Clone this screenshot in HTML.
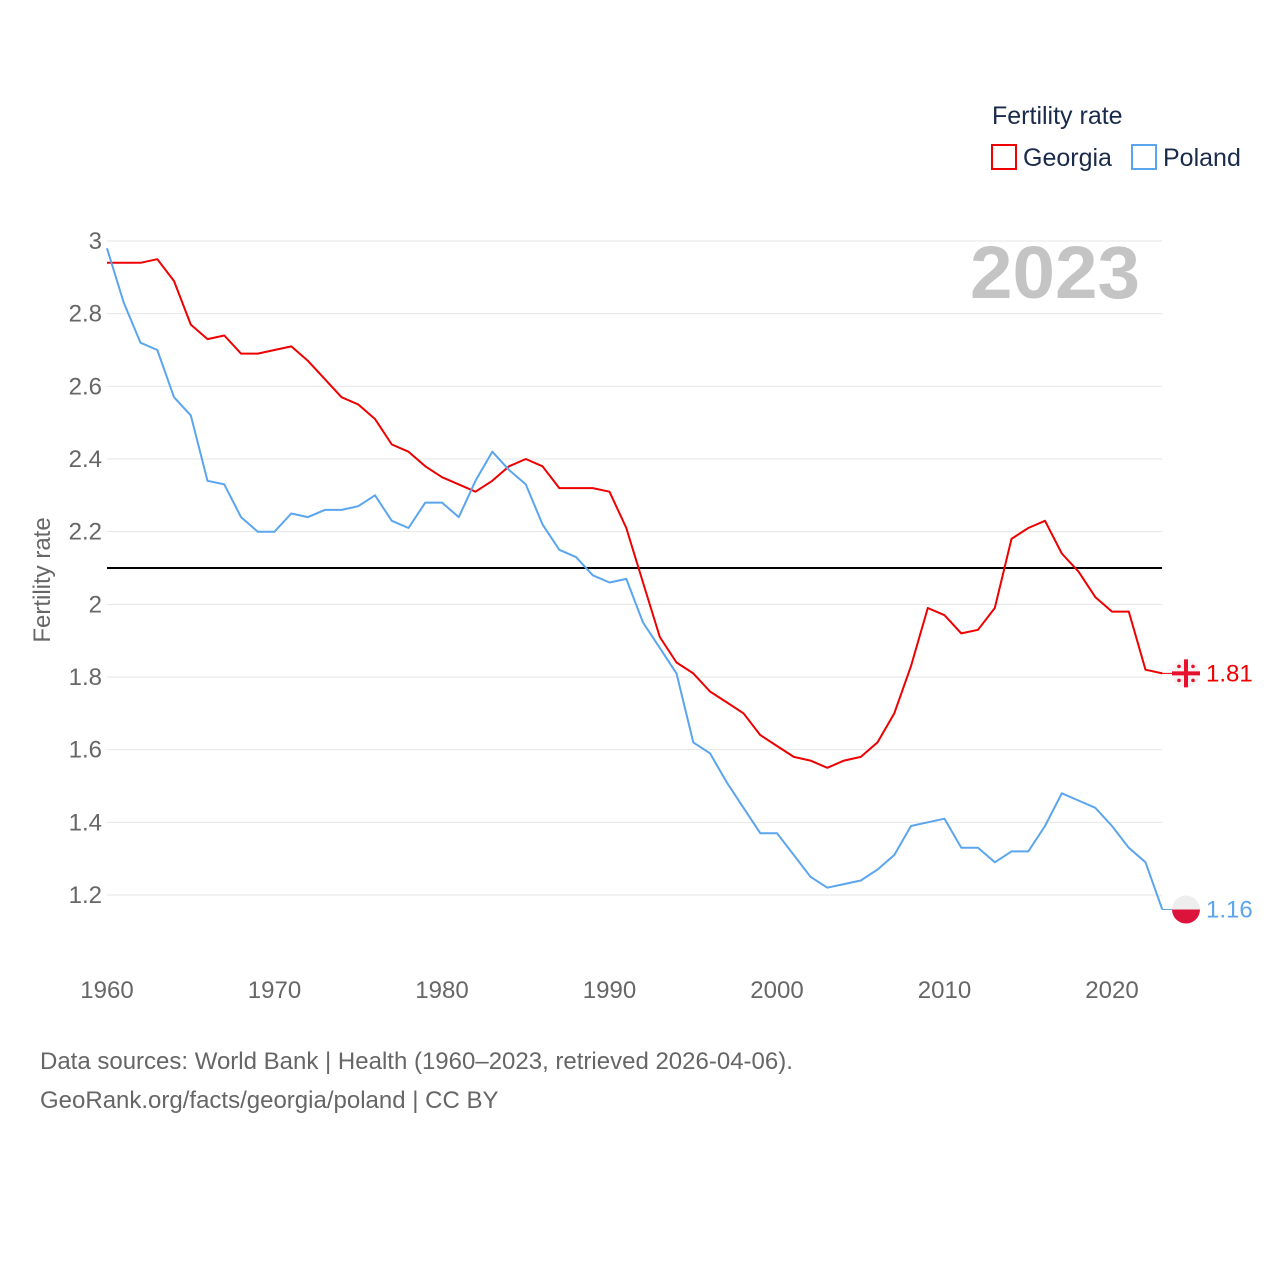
<!DOCTYPE html>
<html><head><meta charset="utf-8">
<style>
body{margin:0;background:#fff;font-family:"Liberation Sans",sans-serif;}
svg text{font-family:"Liberation Sans",sans-serif;}
</style></head>
<body>
<svg id="chart" width="1280" height="1280" viewBox="0 0 1280 1280" xmlns="http://www.w3.org/2000/svg">
<rect width="1280" height="1280" fill="#fff"/>
<g id="grid"></g>
<g id="yticks"></g>
<g id="xticks"></g>
<text x="970" y="298" textLength="170" lengthAdjust="spacingAndGlyphs" font-size="74" font-weight="bold" fill="#c4c4c4">2023</text>
<text transform="translate(50,580) rotate(-90)" text-anchor="middle" font-size="24" fill="#666">Fertility rate</text>
<g id="series"></g>
<text x="992" y="124" font-size="25" fill="#1a2a4a">Fertility rate</text>
<g>
<rect x="992" y="145" width="24" height="24" fill="none" stroke="#ee0000" stroke-width="2"/>
<text x="1023" y="166" font-size="25" fill="#1a2a4a">Georgia</text></g>
<g>
<rect x="1132" y="145" width="24" height="24" fill="none" stroke="#5aa5ee" stroke-width="2"/>
<text x="1163" y="166" font-size="25" fill="#1a2a4a">Poland</text></g>
<text x="40" y="1069" font-size="24" fill="#666">Data sources: World Bank | Health (1960–2023, retrieved 2026-04-06).</text>
<text x="40" y="1108" font-size="24" fill="#666">GeoRank.org/facts/georgia/poland | CC BY</text>
</svg>
<script>
const years=[];for(let y=1960;y<=2023;y++)years.push(y);
const georgia=[2.94,2.94,2.94,2.95,2.89,2.77,2.73,2.74,2.69,2.69,2.70,2.71,2.67,2.62,2.57,2.55,2.51,2.44,2.42,2.38,2.35,2.33,2.31,2.34,2.38,2.40,2.38,2.32,2.32,2.32,2.31,2.21,2.06,1.91,1.84,1.81,1.76,1.73,1.70,1.64,1.61,1.58,1.57,1.55,1.57,1.58,1.62,1.70,1.83,1.99,1.97,1.92,1.93,1.99,2.18,2.21,2.23,2.14,2.09,2.02,1.98,1.98,1.82,1.81];
const poland=[2.98,2.83,2.72,2.70,2.57,2.52,2.34,2.33,2.24,2.20,2.20,2.25,2.24,2.26,2.26,2.27,2.30,2.23,2.21,2.28,2.28,2.24,2.34,2.42,2.37,2.33,2.22,2.15,2.13,2.08,2.06,2.07,1.95,1.88,1.81,1.62,1.59,1.51,1.44,1.37,1.37,1.31,1.25,1.22,1.23,1.24,1.27,1.31,1.39,1.40,1.41,1.33,1.33,1.29,1.32,1.32,1.39,1.48,1.46,1.44,1.39,1.33,1.29,1.16];
const yTicks=[1.2,1.4,1.6,1.8,2,2.2,2.4,2.6,2.8,3];
const xTicks=[1960,1970,1980,1990,2000,2010,2020];
const refLine=2.1;
const NS='http://www.w3.org/2000/svg';
const X=y=>107+(y-1960)*(1005/60);
const Y=v=>241+(3-v)*363.33;
function mk(tag,attrs,parent,txt){const e=document.createElementNS(NS,tag);for(const k in attrs)e.setAttribute(k,attrs[k]);if(txt!==undefined)e.textContent=txt;parent.appendChild(e);return e;}
const grid=document.getElementById('grid'),yt=document.getElementById('yticks'),xt=document.getElementById('xticks'),ser=document.getElementById('series');
yTicks.forEach(v=>{
 const l=mk('line',{x1:107,x2:1162,y1:Y(v),y2:Y(v),stroke:'#e6e6e6','stroke-width':1},grid);
 
 
 const t=mk('text',{x:102,y:Y(v)+8,'text-anchor':'end','font-size':24,fill:'#666'},yt,String(v));
 
 
});
xTicks.forEach(v=>{
 const t=mk('text',{x:X(v),y:998,'text-anchor':'middle','font-size':24,fill:'#666'},xt,String(v));
 
 
});
const rl=mk('line',{x1:107,x2:1162,y1:Y(refLine),y2:Y(refLine),stroke:'#000','stroke-width':2},ser);


function line(data,color,name){
 const d=data.map((v,i)=>(i?'L':'M')+X(years[i]).toFixed(1)+','+Y(v).toFixed(1)).join('');
 const p=mk('path',{d:d,fill:'none',stroke:color,'stroke-width':2,'stroke-linejoin':'round'},ser);
 
 
 const last=data[data.length-1];
 const lx=X(years[years.length-1]),ly=Y(last);
 mk('line',{x1:lx,x2:1172,y1:ly,y2:ly,stroke:color,'stroke-width':1},ser);
 return [ly,last];
}
const [gy,gv]=line(georgia,'#ee0000','georgia-line');
const [py,pv]=line(poland,'#5aa5ee','poland-line');
const gf=mk('g',{},ser);


mk('circle',{cx:1186,cy:gy,r:14,fill:'#f4f4f4'},gf);
mk('rect',{x:1172,y:gy-2,width:28,height:4,fill:'#e8112d'},gf);
mk('rect',{x:1184,y:gy-14,width:4,height:28,fill:'#e8112d'},gf);
[[-7,-7],[7,-7],[-7,7],[7,7]].forEach(o=>mk('circle',{cx:1186+o[0],cy:gy+o[1],r:1.8,fill:'#e8112d'},gf));
const gl=mk('text',{x:1206,y:gy+8,'font-size':24,fill:'#ee0000'},ser,gv.toFixed(2));


const pf=mk('g',{},ser);


mk('path',{d:`M1172,${py} A14,14 0 0 1 1200,${py} Z`,fill:'#eeeeee'},pf);
mk('path',{d:`M1172,${py} A14,14 0 0 0 1200,${py} Z`,fill:'#dc143c'},pf);
const pl=mk('text',{x:1206,y:py+8,'font-size':24,fill:'#5aa5ee'},ser,pv.toFixed(2));


</script>
</body></html>
